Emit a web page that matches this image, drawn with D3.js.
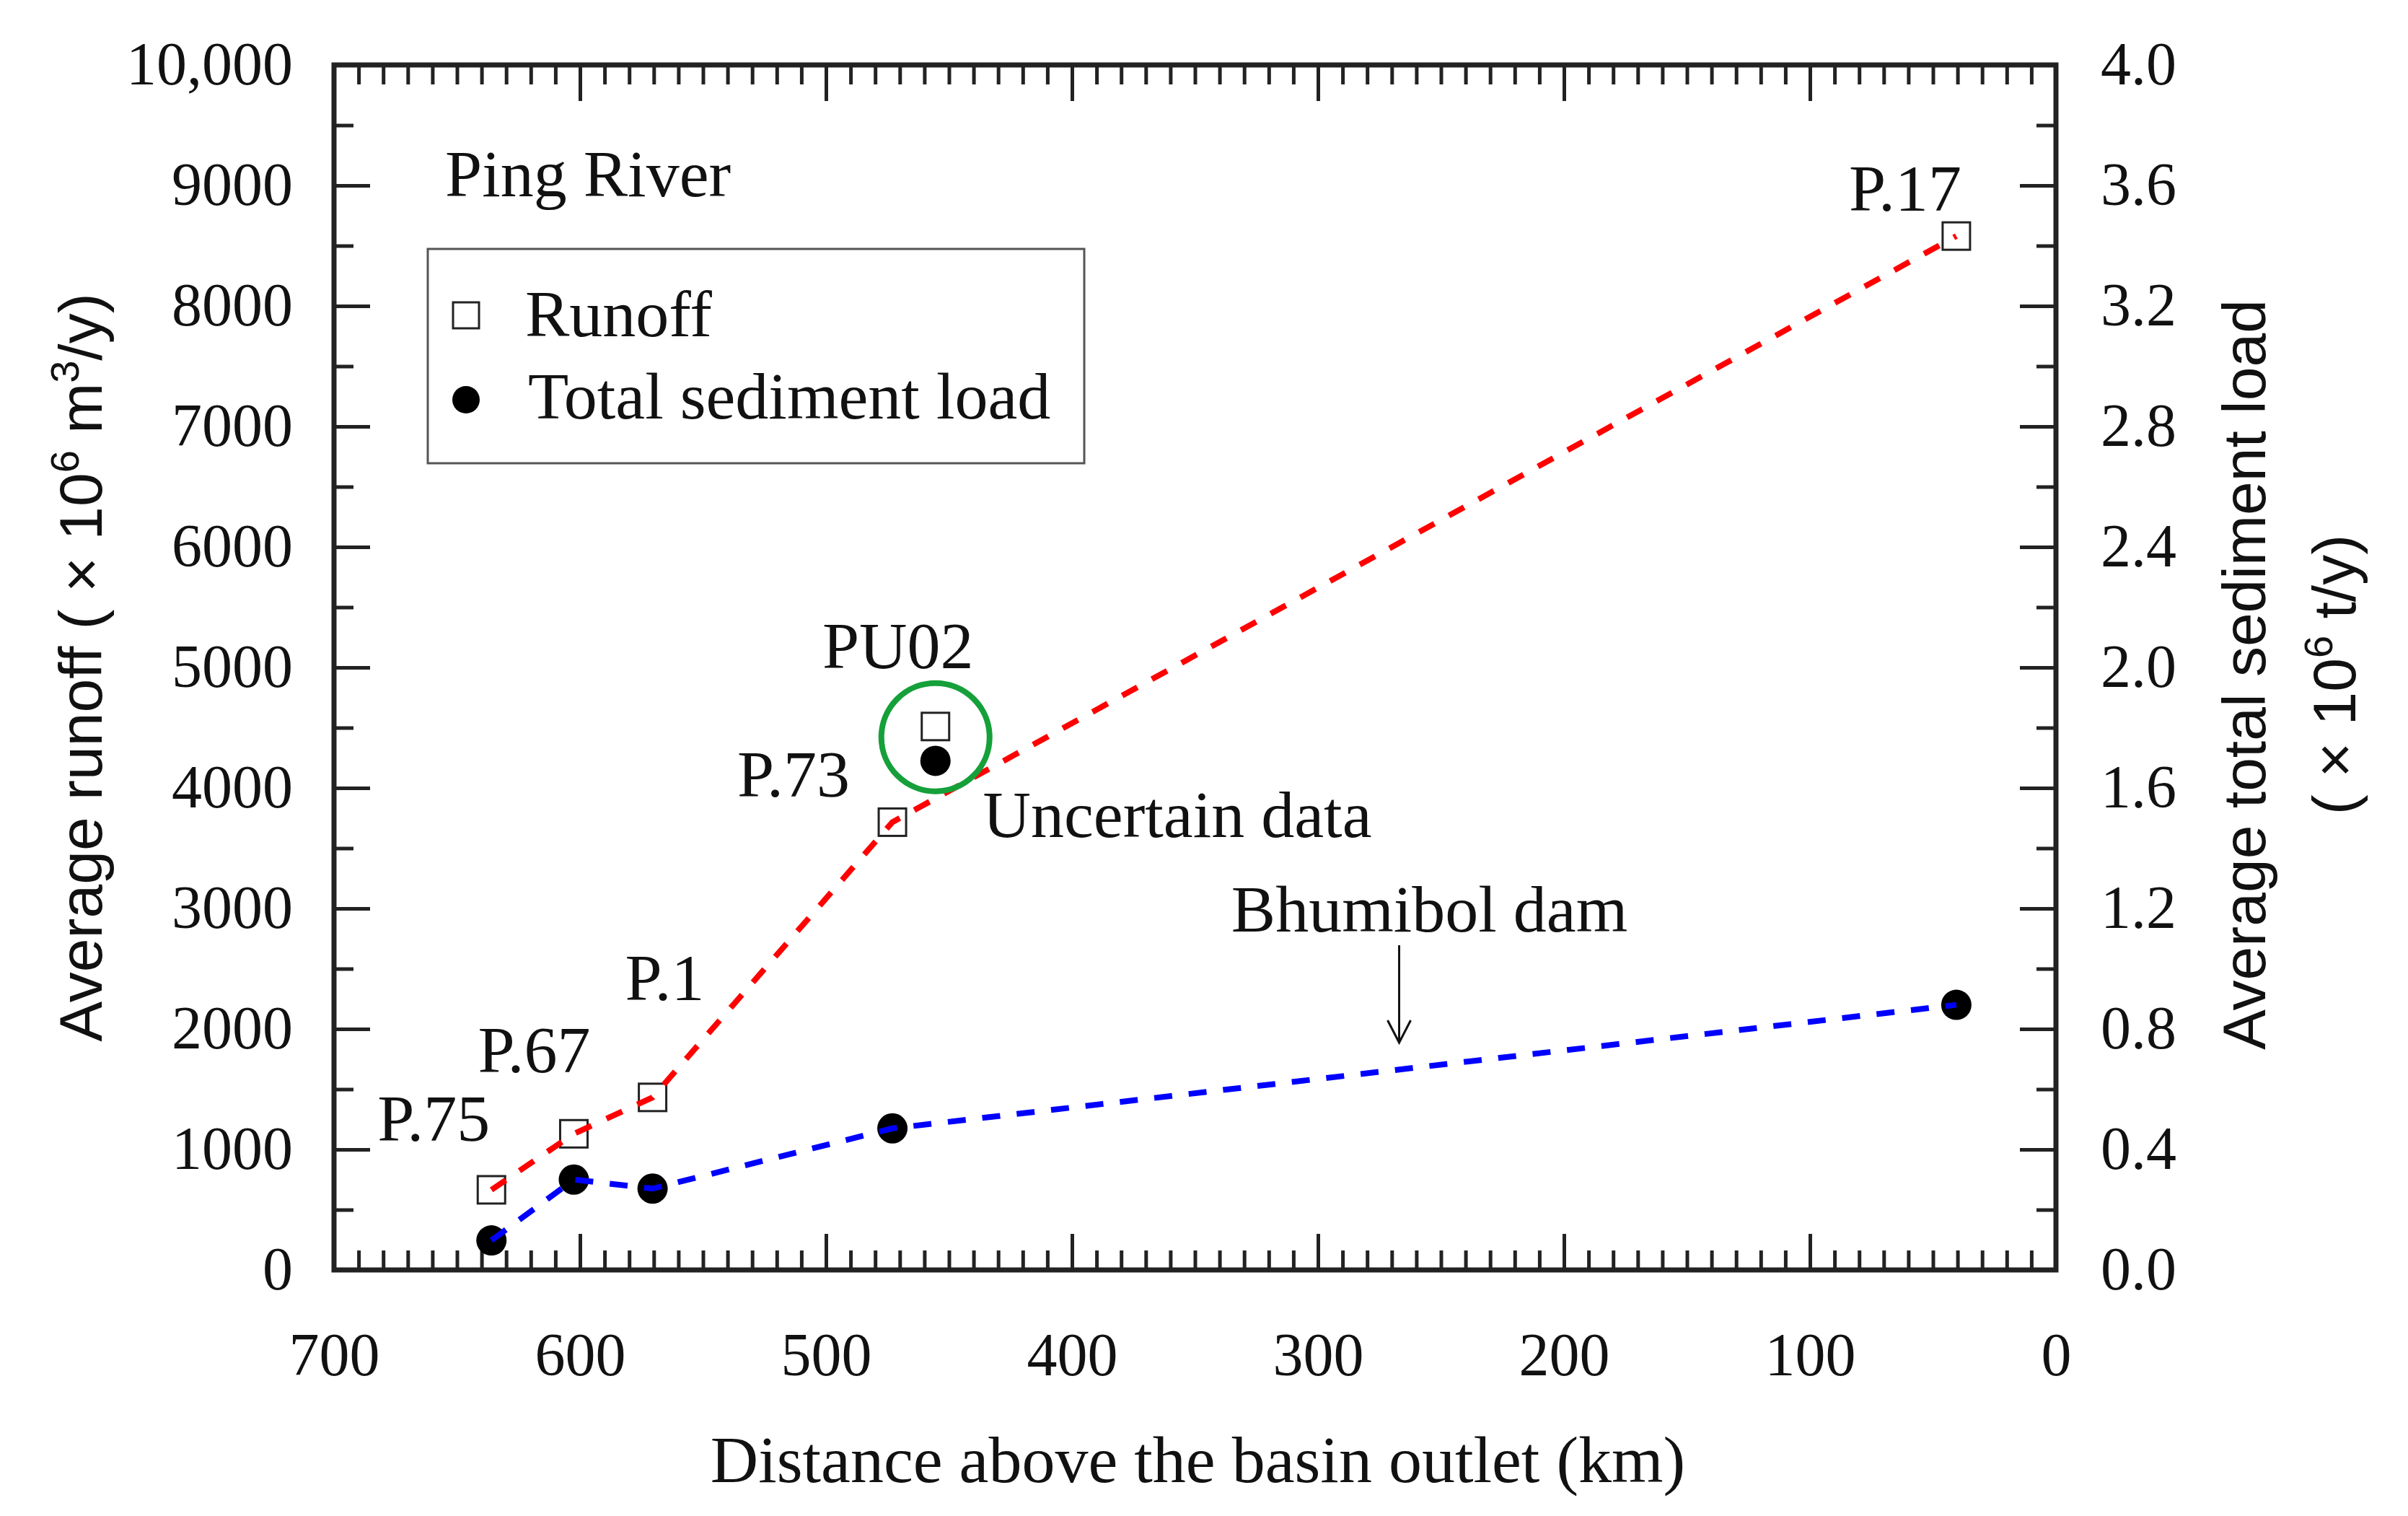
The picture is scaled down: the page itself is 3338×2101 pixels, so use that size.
<!DOCTYPE html>
<html>
<head>
<meta charset="utf-8">
<script src="https://cdn.jsdelivr.net/npm/d3@7"></script>
<style>
  html, body { margin: 0; padding: 0; background: #fff; }
  svg { display: block; }
</style>
</head>
<body>
<div class="chart-holder"></div>
<script>
// station data
const stations = ["P.75", "P.67", "P.1", "P.73", "PU02", "P.17"];
const distanceKm = [636, 602.5, 570.5, 473, 455.5, 40.5];
const runoff = [665, 1130, 1432, 3716, 4510, 8580];        // x 10^6 m3/y
const sediment = [0.098, 0.30, 0.27, 0.47, 1.69, 0.88];    // x 10^6 t/y
const uncertain = ["PU02"];

const xTicks = [700, 600, 500, 400, 300, 200, 100, 0];
const yLeftTicks = [0, 1000, 2000, 3000, 4000, 5000, 6000, 7000, 8000, 9000, 10000];
const yRightTicks = [0, 0.4, 0.8, 1.2, 1.6, 2.0, 2.4, 2.8, 3.2, 3.6, 4.0];
const damKm = 267;

const width = 3338;
const height = 2101;
const m = { left: 463, right: 2850, top: 90, bottom: 1760 };

const serif = "'Liberation Serif', 'Times New Roman', serif";
const sans = "'Liberation Sans', Arial, sans-serif";
const textSize = 92;
const tickSize = 84;

const svg = d3.select(".chart-holder")
  .append("svg")
  .attr("width", width)
  .attr("height", height)
  .attr("viewBox", `0 0 ${width} ${height}`);

svg.append("rect").attr("width", width).attr("height", height).attr("fill", "#fff");

const x = d3.scaleLinear().domain([700, 0]).range([m.left, m.right]);
const yL = d3.scaleLinear().domain([0, 10000]).range([m.bottom, m.top]);
const yR = d3.scaleLinear().domain([0, 4]).range([m.bottom, m.top]);

const data = stations.map((s, i) => ({
  name: s, km: distanceKm[i], runoff: runoff[i], sed: sediment[i]
}));
const linked = data.filter(d => !uncertain.includes(d.name));

// ---- axes (ticks inward on all four sides)
const xMinor = d3.range(0, 701, 10).filter(v => v % 100 !== 0);
const yMinor = d3.range(500, 10000, 1000);
const yRMinor = d3.range(0.2, 4, 0.4);

function styleAxis(g) {
  g.select(".domain").remove();
  g.selectAll(".tick line").attr("stroke", "#222").attr("stroke-width", 5);
  g.selectAll(".tick text")
    .attr("fill", "#111")
    .style("font-family", serif)
    .style("font-size", tickSize + "px");
}

const gx = svg.append("g").attr("transform", `translate(0,${m.bottom})`);
gx.call(d3.axisBottom(x).tickValues(xTicks).tickSizeInner(-50).tickSizeOuter(0)
  .tickPadding(86).tickFormat(d3.format("d")));
styleAxis(gx);
svg.append("g").attr("transform", `translate(0,${m.bottom})`)
  .call(d3.axisBottom(x).tickValues(xMinor).tickSizeInner(-27).tickSizeOuter(0).tickFormat(""))
  .call(styleAxis);

svg.append("g").attr("transform", `translate(0,${m.top})`)
  .call(d3.axisTop(x).tickValues(xTicks).tickSizeInner(-50).tickSizeOuter(0).tickFormat(""))
  .call(styleAxis);
svg.append("g").attr("transform", `translate(0,${m.top})`)
  .call(d3.axisTop(x).tickValues(xMinor).tickSizeInner(-27).tickSizeOuter(0).tickFormat(""))
  .call(styleAxis);

const gyl = svg.append("g").attr("transform", `translate(${m.left},0)`);
gyl.call(d3.axisLeft(yL).tickValues(yLeftTicks).tickSizeInner(-50).tickSizeOuter(0)
  .tickPadding(57).tickFormat(d => d === 10000 ? "10,000" : d3.format("d")(d)));
styleAxis(gyl);
svg.append("g").attr("transform", `translate(${m.left},0)`)
  .call(d3.axisLeft(yL).tickValues(yMinor).tickSizeInner(-27).tickSizeOuter(0).tickFormat(""))
  .call(styleAxis);

const gyr = svg.append("g").attr("transform", `translate(${m.right},0)`);
gyr.call(d3.axisRight(yR).tickValues(yRightTicks).tickSizeInner(-50).tickSizeOuter(0)
  .tickPadding(62).tickFormat(d3.format(".1f")));
styleAxis(gyr);
svg.append("g").attr("transform", `translate(${m.right},0)`)
  .call(d3.axisRight(yR).tickValues(yRMinor).tickSizeInner(-27).tickSizeOuter(0).tickFormat(""))
  .call(styleAxis);

// frame
svg.append("rect")
  .attr("x", m.left).attr("y", m.top)
  .attr("width", m.right - m.left).attr("height", m.bottom - m.top)
  .attr("fill", "none").attr("stroke", "#222").attr("stroke-width", 7);

// ---- axis titles
svg.append("text")
  .attr("x", (m.left + m.right) / 2 + 4).attr("y", 2054)
  .attr("text-anchor", "middle")
  .style("font-family", serif).style("font-size", textSize + "px").attr("fill", "#111")
  .text("Distance above the basin outlet (km)");

function supLabel(xPos, yPos, parts) {
  const t = svg.append("text")
    .attr("transform", `translate(${xPos},${yPos}) rotate(-90)`)
    .attr("text-anchor", "middle")
    .style("font-family", sans).style("font-size", "84px").attr("fill", "#111");
  parts.forEach(p => {
    if (p.sup) {
      t.append("tspan").attr("dy", -32).style("font-size", "56px").text(p.sup);
    } else {
      t.append("tspan").attr("dy", p.after ? 32 : 0).text(p.txt);
    }
  });
}
supLabel(141, 925, [
  { txt: "Average runoff ( \u00d7 10" }, { sup: "6" },
  { txt: " m", after: true }, { sup: "3" }, { txt: "/y)", after: true }
]);
svg.append("text")
  .attr("transform", `translate(3140,935) rotate(-90)`)
  .attr("text-anchor", "middle")
  .style("font-family", sans).style("font-size", "84px").attr("fill", "#111")
  .text("Average total sediment load");
supLabel(3265, 935, [
  { txt: "( \u00d7 10" }, { sup: "6" }, { txt: " t/y)", after: true }
]);

// ---- markers
const sq = 38;
svg.append("g").selectAll("rect")
  .data(data).join("rect")
  .attr("x", d => x(d.km) - sq / 2)
  .attr("y", d => yL(d.runoff) - sq / 2)
  .attr("width", sq).attr("height", sq)
  .attr("fill", "#fff").attr("stroke", "#222").attr("stroke-width", 3);

svg.append("g").selectAll("circle")
  .data(data).join("circle")
  .attr("cx", d => x(d.km))
  .attr("cy", d => yR(d.sed))
  .attr("r", 21)
  .attr("fill", "#000");

// ---- dashed connecting lines (drawn over markers)
svg.append("path")
  .datum(linked)
  .attr("d", d3.line().x(d => x(d.km)).y(d => yL(d.runoff)))
  .attr("fill", "none").attr("stroke", "#ff0000").attr("stroke-width", 8)
  .attr("stroke-dasharray", "24,23");

svg.append("path")
  .datum(linked)
  .attr("d", d3.line().x(d => x(d.km)).y(d => yR(d.sed)))
  .attr("fill", "none").attr("stroke", "#0000ff").attr("stroke-width", 8)
  .attr("stroke-dasharray", "25,23");

// uncertain data circle
data.filter(d => uncertain.includes(d.name)).forEach(d => {
  svg.append("circle")
    .attr("cx", x(d.km))
    .attr("cy", (yL(d.runoff) + yR(d.sed)) / 2 - 9)
    .attr("r", 75)
    .attr("fill", "none").attr("stroke", "#15a03a").attr("stroke-width", 8);
});

// ---- station labels
const labelOffset = {
  "P.75": [-80, -68], "P.67": [-55, -85], "P.1": [17, -135],
  "P.73": [-137, -35], "PU02": [-52, -81], "P.17": [-71, -35]
};
svg.append("g").selectAll("text")
  .data(data).join("text")
  .attr("x", d => x(d.km) + labelOffset[d.name][0])
  .attr("y", d => yL(d.runoff) + labelOffset[d.name][1])
  .attr("text-anchor", "middle")
  .style("font-family", serif).style("font-size", textSize + "px").attr("fill", "#111")
  .text(d => d.name);

const annot = svg.append("g")
  .style("font-family", serif).style("font-size", textSize + "px").attr("fill", "#111");
annot.append("text").attr("x", 617).attr("y", 272).text("Ping River");
annot.append("text").attr("x", 1632).attr("y", 1160).attr("text-anchor", "middle").text("Uncertain data");
annot.append("text").attr("x", x(damKm) + 42).attr("y", 1291).attr("text-anchor", "middle").text("Bhumibol dam");

// dam arrow
const ax = x(damKm);
svg.append("line").attr("x1", ax).attr("x2", ax).attr("y1", 1310).attr("y2", 1445)
  .attr("stroke", "#111").attr("stroke-width", 3);
svg.append("path")
  .attr("d", `M${ax - 16},${1414} L${ax},${1445} L${ax + 16},${1414}`)
  .attr("fill", "none").attr("stroke", "#111").attr("stroke-width", 3);

// ---- legend
const lg = svg.append("g");
lg.append("rect").attr("x", 593).attr("y", 345).attr("width", 910).attr("height", 297)
  .attr("fill", "#fff").attr("stroke", "#555").attr("stroke-width", 3);
lg.append("rect").attr("x", 646 - 18).attr("y", 437 - 18).attr("width", 36).attr("height", 36)
  .attr("fill", "#fff").attr("stroke", "#222").attr("stroke-width", 3);
lg.append("circle").attr("cx", 646).attr("cy", 554).attr("r", 19).attr("fill", "#000");
lg.append("text").attr("x", 728).attr("y", 466)
  .style("font-family", serif).style("font-size", textSize + "px").attr("fill", "#111").text("Runoff");
lg.append("text").attr("x", 732).attr("y", 580)
  .style("font-family", serif).style("font-size", textSize + "px").attr("fill", "#111").text("Total sediment load");
</script>
</body>
</html>
